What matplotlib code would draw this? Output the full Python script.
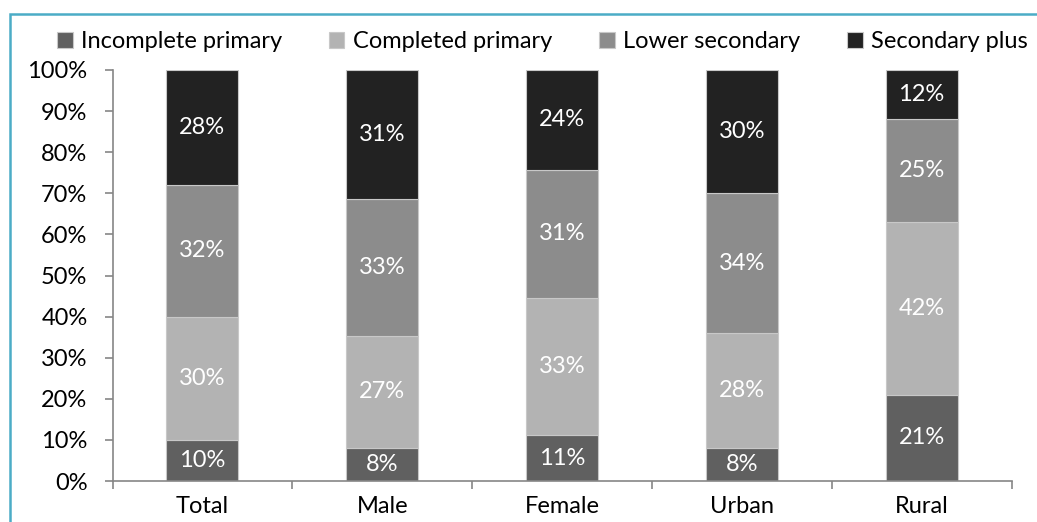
import numpy as np
import matplotlib.pyplot as plt
from matplotlib.patches import Rectangle

plt.rcParams['font.family'] = ['Lato', 'DejaVu Sans']

# shares by education level (%), as labelled
groups = ["Total", "Male", "Female", "Urban", "Rural"]
incomplete_primary = [10, 8, 11, 8, 21]
completed_primary = [30, 27, 33, 28, 42]
lower_secondary = [32, 33, 31, 34, 25]
secondary_plus = [28, 31, 24, 30, 12]

series = [
    ("Incomplete primary", incomplete_primary, "#606060"),
    ("Completed primary", completed_primary, "#b3b3b3"),
    ("Lower secondary", lower_secondary, "#8c8c8c"),
    ("Secondary plus", secondary_plus, "#222222"),
]

FS = 17

# scale each column to 100%
totals = np.sum([s[1] for s in series], axis=0)

fig = plt.figure(figsize=(10.37, 5.22), dpi=100)
ax = fig.add_axes([112.5 / 1037, 41 / 522, 899 / 1037, 411 / 522])

x = np.arange(len(groups))
bottom = np.zeros(len(groups))
handles = []
for name, vals, color in series:
    share = np.array(vals) / totals
    bars = ax.bar(x, share, 0.4, bottom=bottom, color=color,
                  edgecolor="#c8c8c8", linewidth=0.8, label=name)
    handles.append(bars)
    for xi, b, s, v in zip(x, bottom, share, vals):
        ax.text(xi, b + s / 2, f"{v}%", ha="center", va="center",
                color="white", fontsize=FS)
    bottom += share

ax.set_xlim(-0.5, 4.5)
ax.set_ylim(0, 1)
ax.set_yticks(np.linspace(0, 1, 11))
ax.set_yticklabels([f"{int(round(t * 100))}%" for t in np.linspace(0, 1, 11)],
                   fontsize=FS)
ax.set_xticks(x)
ax.set_xticklabels(groups, fontsize=FS)
ax.set_xticks(np.arange(-0.5, 5, 1), minor=True)
ax.tick_params(axis="x", which="major", length=0, pad=11)
ax.tick_params(axis="x", which="minor", length=6, color="#868686", width=1.2)
ax.tick_params(axis="y", length=6, color="#868686", width=1.2, pad=12)

for side in ["top", "right"]:
    ax.spines[side].set_visible(False)
for side in ["left", "bottom"]:
    ax.spines[side].set_color("#868686")
    ax.spines[side].set_linewidth(1.2)

fig.legend(handles=handles, loc="center", bbox_to_anchor=(0.523, 1 - 42 / 522),
           ncol=4, frameon=False, fontsize=FS, handlelength=0.65,
           handleheight=0.65, handletextpad=0.35, columnspacing=2.0,
           borderaxespad=0)

# chart frame
fig.patches.append(Rectangle((10 / 1037, -0.1), 1.2, 1 - 14 / 522 + 0.1,
                             transform=fig.transFigure, fill=False,
                             edgecolor="#4bacc6", linewidth=1.8))

fig.savefig("out.png", dpi=100)
